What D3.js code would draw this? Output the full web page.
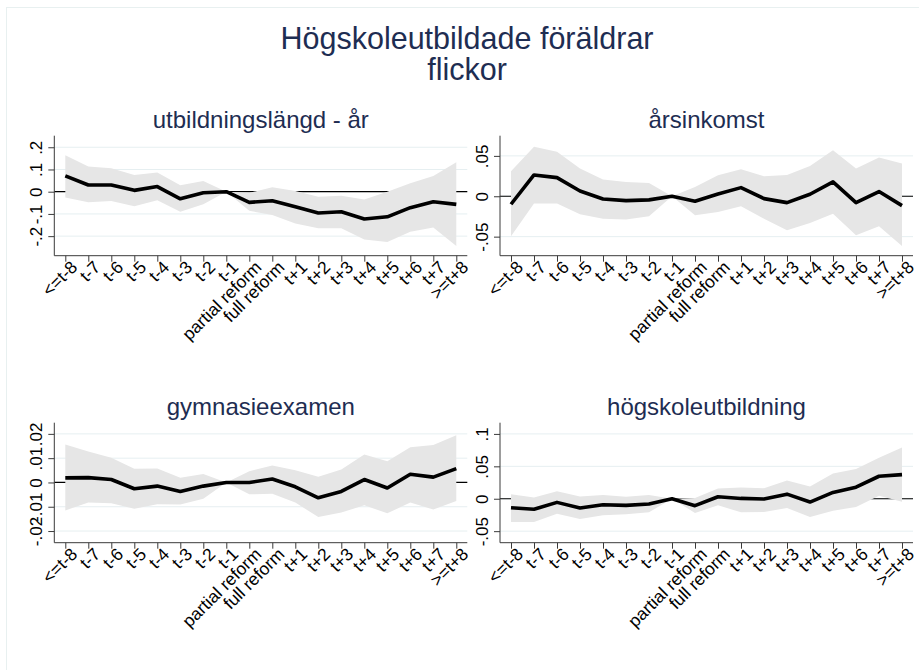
<!DOCTYPE html>
<html>
<head>
<meta charset="utf-8">
<script src="https://cdn.jsdelivr.net/npm/d3@7"></script>
<style>
  body { margin: 0; background: #fff; }
  svg { display: block; font-family: "Liberation Sans", Arial, sans-serif; }
  .title { fill: #1e2d52; }
  .tick-label { fill: #000; }
</style>
</head>
<body>
<div id="chart"></div>
<script>
// Categories on the x axis
var categories = ["<=t-8", "t-7", "t-6", "t-5", "t-4", "t-3", "t-2", "t-1",
    "partial reform", "full reform", "t+1", "t+2", "t+3", "t+4", "t+5", "t+6", "t+7", ">=t+8"];

var mainTitle = ["Högskoleutbildade föräldrar", "flickor"];
var panelTitles = ["utbildningslängd - år", "årsinkomst", "gymnasieexamen", "högskoleutbildning"];

// utbildningslängd - år
var utbCoef = [0.071, 0.030, 0.030, 0.006, 0.023, -0.032, -0.005, 0.000, -0.048, -0.041, -0.068, -0.096, -0.090, -0.123, -0.113, -0.072, -0.045, -0.057];
var utbHi   = [0.164, 0.113, 0.105, 0.075, 0.086, 0.029, 0.048, 0.000, -0.005, 0.020, 0.003, -0.023, -0.018, -0.035, 0.000, 0.038, 0.071, 0.132];
var utbLo   = [-0.026, -0.048, -0.042, -0.065, -0.038, -0.090, -0.057, 0.000, -0.086, -0.105, -0.143, -0.165, -0.165, -0.215, -0.226, -0.180, -0.161, -0.244];
var utbTicks = [-0.2, -0.1, 0, 0.1, 0.2];
var utbRange = [-0.288, 0.252];

// årsinkomst
var inkCoef = [-0.0099, 0.0264, 0.0231, 0.0066, -0.0033, -0.0054, -0.0045, 0.0000, -0.0062, 0.0029, 0.0107, -0.0029, -0.0079, 0.0025, 0.0178, -0.0079, 0.0058, -0.0116];
var inkHi   = [0.0310, 0.0612, 0.0550, 0.0343, 0.0207, 0.0178, 0.0165, 0.0000, 0.0116, 0.0260, 0.0335, 0.0248, 0.0264, 0.0376, 0.0570, 0.0343, 0.0480, 0.0405];
var inkLo   = [-0.0496, -0.0091, -0.0091, -0.0223, -0.0277, -0.0289, -0.0248, 0.0000, -0.0236, -0.0194, -0.0124, -0.0277, -0.0421, -0.0331, -0.0215, -0.0483, -0.0372, -0.0616];
var inkTicks = [-0.05, 0, 0.05];
var inkRange = [-0.0736, 0.0750];

// gymnasieexamen
var gymCoef = [0.0019, 0.0020, 0.0012, -0.0026, -0.0015, -0.0037, -0.0015, 0.0000, 0.0000, 0.0014, -0.0018, -0.0063, -0.0037, 0.0012, -0.0023, 0.0034, 0.0022, 0.0057];
var gymHi   = [0.0156, 0.0127, 0.0102, 0.0056, 0.0057, 0.0019, 0.0035, 0.0000, 0.0046, 0.0070, 0.0050, 0.0023, 0.0053, 0.0115, 0.0087, 0.0145, 0.0154, 0.0194];
var gymLo   = [-0.0115, -0.0083, -0.0086, -0.0108, -0.0090, -0.0091, -0.0067, 0.0000, -0.0049, -0.0046, -0.0083, -0.0142, -0.0124, -0.0094, -0.0127, -0.0083, -0.0111, -0.0076];
var gymTicks = [-0.02, -0.01, 0, 0.01, 0.02];
var gymRange = [-0.0248, 0.0246];

// högskoleutbildning
var hogCoef = [-0.0138, -0.0163, -0.0056, -0.0143, -0.0092, -0.0102, -0.0082, 0.0000, -0.0107, 0.0031, 0.0005, -0.0005, 0.0071, -0.0051, 0.0097, 0.0179, 0.0347, 0.0372];
var hogHi   = [0.0071, 0.0020, 0.0117, 0.0036, 0.0056, 0.0031, 0.0056, 0.0000, 0.0010, 0.0158, 0.0173, 0.0163, 0.0280, 0.0189, 0.0388, 0.0459, 0.0633, 0.0790];
var hogLo   = [-0.0357, -0.0357, -0.0230, -0.0311, -0.0255, -0.0240, -0.0209, 0.0000, -0.0219, -0.0102, -0.0209, -0.0204, -0.0143, -0.0281, -0.0184, -0.0128, 0.0046, -0.0046];
var hogTicks = [-0.05, 0, 0.05, 0.1];
var hogRange = [-0.0678, 0.1173];

var panels = [
    { title: panelTitles[0], coef: utbCoef, hi: utbHi, lo: utbLo, ticks: utbTicks, range: utbRange },
    { title: panelTitles[1], coef: inkCoef, hi: inkHi, lo: inkLo, ticks: inkTicks, range: inkRange },
    { title: panelTitles[2], coef: gymCoef, hi: gymHi, lo: gymLo, ticks: gymTicks, range: gymRange },
    { title: panelTitles[3], coef: hogCoef, hi: hogHi, lo: hogLo, ticks: hogTicks, range: hogRange }
];

var svgWidth = 919, svgHeight = 670;

// Plot regions (left x, top y) for the 2x2 grid
var plotW = 413, plotH = 120;
var origins = [[54.3, 135.7], [500, 135.7], [54.3, 422.7], [500, 422.7]];

var svg = d3.select("#chart").append("svg")
    .attr("width", svgWidth)
    .attr("height", svgHeight);

// light outer frame
svg.append("rect")
    .attr("x", 6.5).attr("y", 7.5)
    .attr("width", svgWidth + 20).attr("height", svgHeight + 20)
    .attr("fill", "none")
    .attr("stroke", "#e8f0f0");

// Main title, two lines
svg.append("g")
    .selectAll("text")
    .data(mainTitle)
    .enter()
    .append("text")
    .attr("class", "title")
    .attr("x", 467)
    .attr("y", (d, i) => 49 + i * 31)
    .attr("text-anchor", "middle")
    .style("font-size", "30.5px")
    .text(d => d);

// Tick label format like Stata: .2, -.05, 0
function stataFmt(v) {
    if (v === 0) return "0";
    return String(v).replace("0.", ".");
}

panels.forEach(function(p, i) {
    var g = svg.append("g")
        .attr("transform", `translate(${origins[i][0]}, ${origins[i][1]})`);

    var xScale = d3.scalePoint()
        .domain(categories)
        .range([11, plotW - 11]);

    var yScale = d3.scaleLinear()
        .domain(p.range)
        .range([plotH, 0]);

    var rows = categories.map((c, k) => ({ cat: c, coef: p.coef[k], hi: p.hi[k], lo: p.lo[k] }));

    // gridlines
    g.selectAll(".grid")
        .data(p.ticks)
        .enter()
        .append("line")
        .attr("x1", 0).attr("x2", plotW)
        .attr("y1", d => yScale(d)).attr("y2", d => yScale(d))
        .attr("stroke", "#e6eff1")
        .attr("stroke-width", 1);

    // reference line at zero
    g.append("line")
        .attr("x1", 0).attr("x2", plotW)
        .attr("y1", yScale(0)).attr("y2", yScale(0))
        .attr("stroke", "#000")
        .attr("stroke-width", 1.2);

    // confidence band
    var area = d3.area()
        .x(d => xScale(d.cat))
        .y0(d => yScale(d.lo))
        .y1(d => yScale(d.hi));

    g.append("path")
        .datum(rows)
        .attr("d", area)
        .attr("fill", "#e6e6e6");

    // estimates
    var line = d3.line()
        .x(d => xScale(d.cat))
        .y(d => yScale(d.coef));

    g.append("path")
        .datum(rows)
        .attr("d", line)
        .attr("fill", "none")
        .attr("stroke", "#000")
        .attr("stroke-width", 3.6)
        .attr("stroke-linejoin", "round");

    // y axis
    var yAxis = d3.axisLeft(yScale)
        .tickValues(p.ticks)
        .tickSize(6)
        .tickPadding(6)
        .tickFormat(stataFmt);

    var yG = g.append("g").call(yAxis);
    yG.select(".domain").remove();
    yG.selectAll("line").attr("stroke", "#3a3a3a");
    yG.selectAll("text")
        .attr("class", "tick-label")
        .style("font-size", "17px")
        .style("font-family", "Liberation Sans, Arial, sans-serif")
        .attr("text-anchor", "middle")
        .attr("dy", "0")
        .attr("x", 0)
        .attr("transform", "translate(-12,0) rotate(-90)");

    g.append("line")
        .attr("x1", 0).attr("x2", 0)
        .attr("y1", 0).attr("y2", plotH)
        .attr("stroke", "#3a3a3a");

    // x axis
    var xAxis = d3.axisBottom(xScale)
        .tickSize(6)
        .tickPadding(4);

    var xG = g.append("g")
        .attr("transform", `translate(0, ${plotH})`)
        .call(xAxis);
    xG.select(".domain").remove();
    xG.selectAll("line").attr("stroke", "#3a3a3a");
    xG.selectAll("text")
        .attr("class", "tick-label")
        .style("font-size", "17.5px")
        .style("font-family", "Liberation Sans, Arial, sans-serif")
        .attr("text-anchor", "end")
        .attr("dy", "0.7em")
        .attr("y", 0)
        .attr("transform", "translate(4,4) rotate(-45)");

    g.append("line")
        .attr("x1", 0).attr("x2", plotW)
        .attr("y1", plotH).attr("y2", plotH)
        .attr("stroke", "#3a3a3a");

    // panel title
    g.append("text")
        .attr("class", "title")
        .attr("x", plotW / 2)
        .attr("y", -8)
        .attr("text-anchor", "middle")
        .style("font-size", "24px")
        .text(p.title);
});
</script>
</body>
</html>
